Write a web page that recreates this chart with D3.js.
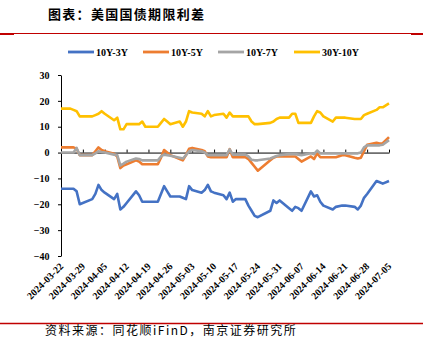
<!DOCTYPE html>
<html>
<head>
<meta charset="utf-8">
<script src="https://cdn.jsdelivr.net/npm/d3@7"></script>
<style>
  html, body { margin: 0; padding: 0; background: #fff; }
  svg { display: block; }
</style>
</head>
<body>
<svg id="chart" width="428" height="338"></svg>
<script>
// Trading days (US Treasury market)
const dates = [
  "2024-03-22","2024-03-25","2024-03-26","2024-03-27","2024-03-28",
  "2024-04-01","2024-04-02","2024-04-03","2024-04-04","2024-04-05",
  "2024-04-08","2024-04-09","2024-04-10","2024-04-11","2024-04-12",
  "2024-04-15","2024-04-16","2024-04-17","2024-04-18","2024-04-19",
  "2024-04-22","2024-04-23","2024-04-24","2024-04-25","2024-04-26",
  "2024-04-29","2024-04-30","2024-05-01","2024-05-02","2024-05-03",
  "2024-05-06","2024-05-07","2024-05-08","2024-05-09","2024-05-10",
  "2024-05-13","2024-05-14","2024-05-15","2024-05-16","2024-05-17",
  "2024-05-20","2024-05-21","2024-05-22","2024-05-23","2024-05-24",
  "2024-05-28","2024-05-29","2024-05-30","2024-05-31",
  "2024-06-03","2024-06-04","2024-06-05","2024-06-06","2024-06-07",
  "2024-06-10","2024-06-11","2024-06-12","2024-06-13","2024-06-14",
  "2024-06-17","2024-06-18","2024-06-20","2024-06-21",
  "2024-06-24","2024-06-25","2024-06-26","2024-06-27","2024-06-28",
  "2024-07-01","2024-07-02","2024-07-03","2024-07-05"
];

// Term spreads, bp
const spread10y3y = [
  -14,-14,-14,-15,-20,
  -18,-16,-12.5,-14.5,-15.5,
  -18,-16,-22,-21,-19.5,
  -15,-16.5,-19,-19,-19,
  -19,-16,-13,-15,-17,
  -17,-17.5,-18,-13,-14.5,
  -15.5,-14.5,-12.5,-15,-15.5,
  -16.5,-18,-15.5,-19,-18,
  -18,-20.5,-22.5,-24.5,-25,
  -22.5,-18.5,-19.5,-18.5,
  -21.5,-22.5,-21,-21.5,-22.5,
  -15,-17,-16.5,-19,-20.5,
  -22,-21,-20.5,-20.5,
  -21,-22,-20.5,-17.5,-16,
  -11,-11.5,-12,-11
];
const spread10y5y = [
  2,2,2,1.5,-1,
  -1,0.5,2,1,0.5,
  -0.5,-1.5,-6,-5,-4.5,
  -3,-3.5,-4.5,-4.5,-4.5,
  -4.5,-2,1,0,-1,
  -2.5,-3,-1,1.5,1.8,
  1,0.5,-1.5,-1.8,-1.8,
  -1.8,-1.8,1.3,-1.8,-1.8,
  -1.8,-2.5,-4,-5.5,-7,
  -3,-2,-1.5,-1.5,
  -1.5,-1.5,-1.5,-2.5,-3.5,
  -1.5,-2.5,-0.3,-1.8,-1.8,
  -1.8,-1.8,-1,-1,
  -2,-2.3,-2,0.5,3,
  3.8,3.5,3.6,6
];
const spread10y7y = [
  0,0,0,1.8,-1,
  -1,-0.3,0.5,0.2,0,
  -0.8,-1,-5,-4.3,-3.5,
  -2.3,-2.5,-3,-3,-3,
  -3,-1.5,-0.8,-1,-1.2,
  -2,-2.3,-1,0.5,1,
  0.5,0,-1,-1,-1,
  -1,-1,1.2,-0.8,-0.8,
  -0.8,-1.5,-2.8,-3,-3,
  -2.3,-1.8,-1.3,-1,
  -0.6,-0.6,-0.6,-0.8,-1,
  -0.3,-0.6,0.8,-0.3,-0.3,
  -0.3,-0.3,-0.3,-0.3,
  -0.3,-0.3,0,2,2.8,
  2.8,2.8,3,4.8
];
const spread30y10y = [
  17,17,16.5,16,14,
  14,14.5,15,16,15,
  12.5,13.5,9,9,11,
  11,11,12,10,10,
  10,11.5,13,12,11,
  12,10,12,16,15.5,
  15,14,16,14,14.5,
  15,13.5,15.5,14,14,
  14,14,12,11,11,
  11.5,12,13,13.5,
  13.5,15,15,11.5,11.5,
  11.5,14,16,15.5,14,
  12,13.5,13.5,13.5,
  13,13,13,14.5,15,
  16.5,17.5,17.5,19
];

const seriesNames = ["10Y-3Y", "10Y-5Y", "10Y-7Y", "30Y-10Y"];
const seriesValues = [spread10y3y, spread10y5y, spread10y7y, spread30y10y];
const seriesColors = ["#4472C4", "#ED7D31", "#A5A5A5", "#FFC000"];

const yTicks = [30, 20, 10, 0, -10, -20, -30, -40];
const xTickLabels = [
  "2024-03-22","2024-03-29","2024-04-05","2024-04-12","2024-04-19",
  "2024-04-26","2024-05-03","2024-05-10","2024-05-17","2024-05-24",
  "2024-05-31","2024-06-07","2024-06-14","2024-06-21","2024-06-28",
  "2024-07-05"
];

const titleText = "图表：美国国债期限利差";
const sourceText = "资料来源：同花顺iFinD，南京证券研究所";

const svg = d3.select("#chart");
const parse = d3.utcParse("%Y-%m-%d");
const numFont = "'Liberation Serif','Times New Roman',serif";
const cjkFont = "'Noto Sans CJK SC','Noto Sans',sans-serif";

const x = d3.scaleUtc()
  .domain([parse(xTickLabels[0]), parse(xTickLabels[xTickLabels.length - 1])])
  .range([61, 389]);
const y = d3.scaleLinear().domain([-40, 30]).range([256, 75]);

// Heading and rules
svg.append("text")
  .attr("x", 48).attr("y", 18.5)
  .attr("font-family", cjkFont).attr("font-size", 13).attr("font-weight", 700)
  .attr("letter-spacing", 1.3).attr("fill", "#000")
  .text(titleText);

const red = "#C00000";
svg.append("line").attr("x1", 0).attr("x2", 423).attr("y1", 33.5).attr("y2", 33.5)
  .attr("stroke", red).attr("stroke-width", 1);
svg.append("rect").attr("x", 0).attr("y", 33).attr("width", 14).attr("height", 2).attr("fill", red);
svg.append("rect").attr("x", 411).attr("y", 33).attr("width", 12).attr("height", 2).attr("fill", red);
svg.append("line").attr("x1", 0).attr("x2", 423).attr("y1", 323.5).attr("y2", 323.5)
  .attr("stroke", red).attr("stroke-width", 1.5);

// Legend
const legend = svg.append("g");
const legendX = [68, 143, 218, 294];
seriesNames.forEach((name, i) => {
  const g = legend.append("g").attr("transform", `translate(${legendX[i]},52)`);
  g.append("line").attr("x1", 0).attr("x2", 26).attr("y1", 0).attr("y2", 0)
    .attr("stroke", seriesColors[i]).attr("stroke-width", 2.8);
  g.append("text").attr("x", 28).attr("y", 3.6)
    .attr("font-family", numFont).attr("font-size", 10).attr("font-weight", 700)
    .attr("fill", "#000").text(name);
});

// Y axis
const yAxis = svg.append("g").attr("transform", "translate(61,0)")
  .call(d3.axisLeft(y).tickValues(yTicks).tickSize(3).tickSizeOuter(0).tickPadding(8.5));
yAxis.select(".domain").attr("stroke", "#000");
yAxis.selectAll(".tick line").attr("stroke", "#000");
yAxis.selectAll(".tick text")
  .attr("font-family", numFont).attr("font-size", 10).attr("font-weight", 700).attr("fill", "#000");

// X axis along the zero line
const xAxis = svg.append("g").attr("transform", `translate(0,${y(0)})`)
  .call(d3.axisBottom(x).tickValues(xTickLabels.map(parse)).tickSize(-3).tickSizeOuter(0).tickFormat(""));
xAxis.select(".domain").attr("stroke", "#000");
xAxis.selectAll(".tick line").attr("stroke", "#000");

// Rotated date labels below the plot
svg.append("g").selectAll("text")
  .data(xTickLabels)
  .join("text")
  .attr("transform", d => `translate(${x(parse(d)) + 3},267) rotate(-45)`)
  .attr("text-anchor", "end")
  .attr("font-family", numFont).attr("font-size", 10).attr("font-weight", 700)
  .attr("fill", "#000")
  .text(d => d);

// Spread lines
const line = d3.line()
  .x(d => x(d.date))
  .y(d => y(d.v));
seriesValues.forEach((vals, i) => {
  const pts = dates.map((d, k) => ({ date: parse(d), v: vals[k] }));
  svg.append("path")
    .datum(pts)
    .attr("fill", "none")
    .attr("stroke", seriesColors[i])
    .attr("stroke-width", 2.6)
    .attr("stroke-linejoin", "round")
    .attr("d", line);
});

// Source note
svg.append("text")
  .attr("x", 45).attr("y", 334.5)
  .attr("font-family", cjkFont).attr("font-size", 12)
  .attr("letter-spacing", 1.5).attr("fill", "#000")
  .text(sourceText);
</script>
</body>
</html>
